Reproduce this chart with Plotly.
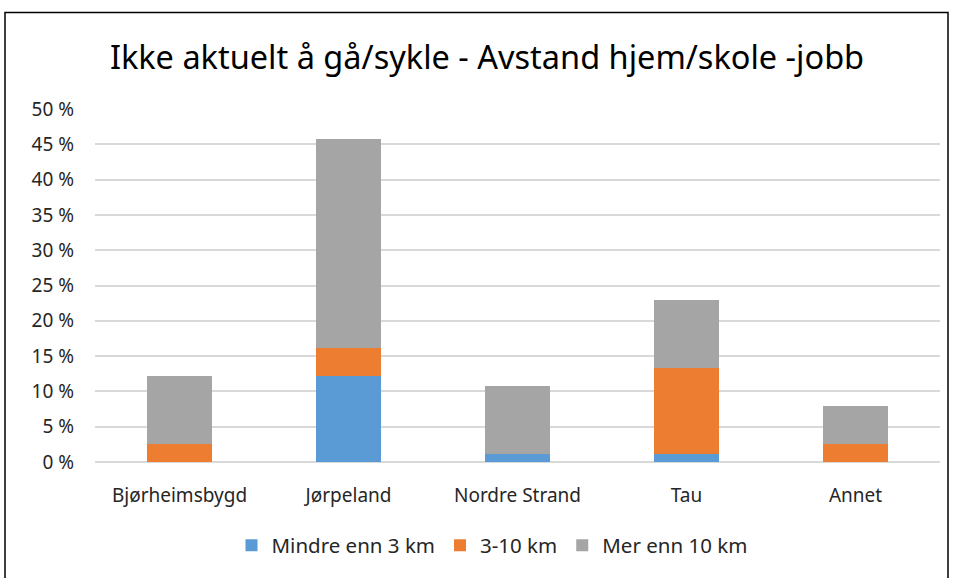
import plotly.graph_objects as go

categories = ["Bjørheimsbygd", "Jørpeland", "Nordre Strand", "Tau", "Annet"]
series_names = ["Mindre enn 3 km", "3-10 km", "Mer enn 10 km"]
mindre_3 = [0.0, 12.2, 1.2, 1.2, 0.0]
km_3_10 = [2.6, 4.0, 0.0, 12.1, 2.6]
mer_10 = [9.6, 29.5, 9.6, 9.6, 5.4]
tick_vals = [0, 5, 10, 15, 20, 25, 30, 35, 40, 45, 50]
tick_text = [f"{v} %" for v in tick_vals]
colors = ["#5B9BD5", "#ED7D31", "#A5A5A5"]

W, H = 953, 578
L = 95
R = W - 940
T = 109
B = H - 464
FONT = "Noto Sans"

fig = go.Figure()
for name, vals, col in zip(series_names, [mindre_3, km_3_10, mer_10], colors):
    fig.add_trace(go.Bar(x=categories, y=vals, name=name, marker_color=col,
                         marker_line_width=0))

pw = W - L - R
ph = H - T - B
def px2x(px):
    return (px - L) / pw
def py2y(py):
    return (H - B - py) / ph

fig.update_layout(
    width=W, height=H,
    margin=dict(l=L, r=R, t=T, b=B),
    barmode="stack",
    bargap=0.61,
    plot_bgcolor="white",
    paper_bgcolor="white",
    font=dict(family=FONT, size=19, color="#262626"),
    title=dict(text="Ikke aktuelt å gå/sykle - Avstand hjem/skole -jobb",
               xref="container", x=487 / W, xanchor="center",
               yref="container", y=1 - 58 / H, yanchor="middle",
               font=dict(family=FONT, size=32.5, color="#000000")),
    xaxis=dict(showgrid=False, showline=False, zeroline=False, ticks="",
               ticklabelstandoff=20,
               tickfont=dict(size=19, color="#262626")),
    yaxis=dict(range=[0, 50], tickvals=tick_vals, ticktext=tick_text,
               showgrid=True, gridcolor="#D9D9D9", gridwidth=1.5,
               zeroline=True, zerolinecolor="#D9D9D9", zerolinewidth=1.5,
               showline=False, ticks="", ticklabelstandoff=20,
               tickfont=dict(size=19, color="#262626")),
    legend=dict(orientation="h", x=px2x(492), xanchor="center",
                y=py2y(548), yanchor="middle",
                font=dict(size=20.5, color="#262626"),
                itemsizing="constant", traceorder="normal"),
    shapes=[dict(type="rect", xref="paper", yref="paper",
                 x0=px2x(5), x1=px2x(948), y0=py2y(600), y1=py2y(12),
                 line=dict(color="black", width=1.5), layer="below")],
)

fig.write_html("out.html",
               config={"displayModeBar": False},
               post_script="document.body.style.margin='0px';")
